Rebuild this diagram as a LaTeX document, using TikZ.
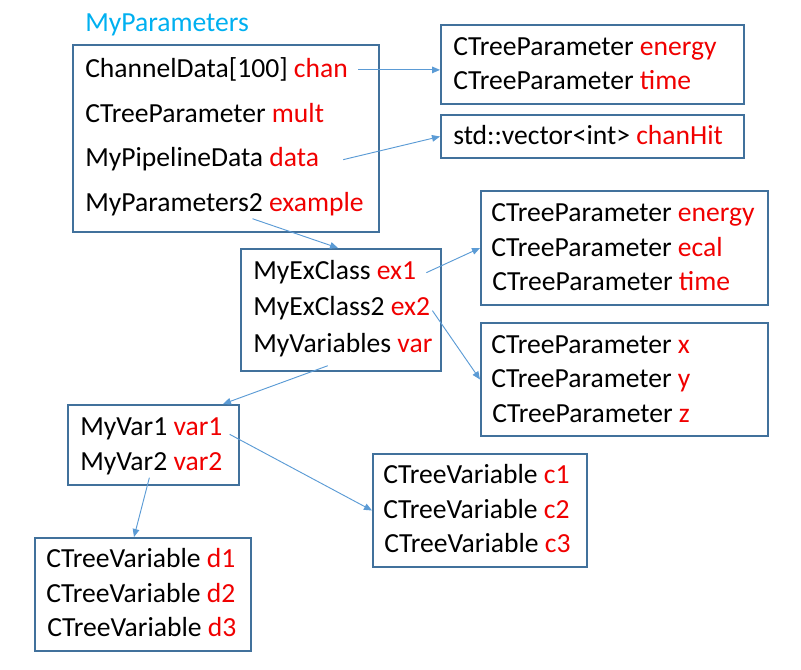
\documentclass[tikz,border=0pt]{standalone}
\usepackage{fontspec}
\setmainfont{Carlito}
\usepackage{xcolor}
\usepackage{tikz}
\usetikzlibrary{arrows.meta,positioning,fit,calc}

\definecolor{boxblue}{HTML}{41719C}
\definecolor{linkblue}{HTML}{5B9BD5}
\definecolor{titleblue}{HTML}{00B0F0}
\definecolor{vnred}{HTML}{F00000}
\newcommand{\vname}[1]{\textcolor{vnred}{#1}}

\begin{document}
\begin{tikzpicture}[
  x=0.75pt, y=-0.75pt,
  box/.style={draw=boxblue, line width=1.5pt, inner sep=0pt},
  txt/.style={anchor=base west, inner sep=0pt,
              font=\fontsize{20.7}{24}\selectfont},
  link/.style={-{Triangle[length=6pt, width=5pt]}, draw=linkblue,
               line width=0.7pt}
]
\useasboundingbox (0,0) rectangle (801,670);

% boxes
\node[box, fit={(73,45) (379,232)}]   (bMain) {};
\node[box, fit={(441,25) (744,104)}]  (bEn) {};
\node[box, fit={(441,115) (744,158)}] (bVec) {};
\node[box, fit={(241,249) (441,371)}] (bEx) {};
\node[box, fit={(481,191) (768,305)}] (bEcal) {};
\node[box, fit={(481,323) (768,436)}] (bXyz) {};
\node[box, fit={(68,405) (239,485)}]  (bVar) {};
\node[box, fit={(373,454) (587,567)}] (bC) {};
\node[box, fit={(35,538) (251,651)}]  (bD) {};

% texts
\node[txt, text=titleblue] (tPar) at (85,32) {MyParameters};
\node[txt] (lchan)    at (85,78)  {ChannelData[100] \vname{chan}};
\node[txt] (lmult)    at (85,123) {CTreeParameter \vname{mult}};
\node[txt] (ldata)    at (85,167) {MyPipelineData \vname{data}};
\node[txt] (lexample) at (85,212) {MyParameters2 \vname{example}};

\node[txt] (lenergy) at (453,56)  {CTreeParameter \vname{energy}};
\node[txt] (ltime)   at (453,90)  {CTreeParameter \vname{time}};
\node[txt] (lhit)    at (453,145) {std::vector<int> \vname{chanHit}};

\node[txt] (lex1) at (253,280) {MyExClass \vname{ex1}};
\node[txt] (lex2) at (253,316) {MyExClass2 \vname{ex2}};
\node[txt] (lvar) at (253,353) {MyVariables \vname{var}};

\node[txt] (lenB)  at (491,222) {CTreeParameter \vname{energy}};
\node[txt] (lecal) at (491,257) {CTreeParameter \vname{ecal}};
\node[txt] (ltiB)  at (492,291) {CTreeParameter \vname{time}};

\node[txt] (lx) at (491,354) {CTreeParameter \vname{x}};
\node[txt] (ly) at (491,388) {CTreeParameter \vname{y}};
\node[txt] (lz) at (492,423) {CTreeParameter \vname{z}};

\node[txt] (lvar1) at (80,436) {MyVar1 \vname{var1}};
\node[txt] (lvar2) at (80,471) {MyVar2 \vname{var2}};

\node[txt] (lc1) at (383,484) {CTreeVariable \vname{c1}};
\node[txt] (lc2) at (383,519) {CTreeVariable \vname{c2}};
\node[txt] (lc3) at (384,553) {CTreeVariable \vname{c3}};

\node[txt] (ld1) at (46,568) {CTreeVariable \vname{d1}};
\node[txt] (ld2) at (46,603) {CTreeVariable \vname{d2}};
\node[txt] (ld3) at (47,637) {CTreeVariable \vname{d3}};

% links
\draw[link] ($(lchan.east)+(10,0)$) -- (lchan.east -| bEn.west);
\draw[link] ($(ldata.east)+(24,0)$) -- (bVec.west);
\draw[link] ($(lexample.south)+(28,2)$) -- ($(bEx.north)+(-3,0)$);
\draw[link] ($(lex1.east)+(10,0)$) -- (bEcal.west);
\draw[link] ($(lex2.east)+(2,2)$) -- (bXyz.west);
\draw[link] ($(lvar.south)+(-15,8)$) -- ($(bVar.north east)+(-17,0)$);
\draw[link] ($(lvar2.south)+(-2,2)$) -- ($(bD.north)+(-9,0)$);
\draw[link] ($(lvar1.east)+(7,5)$) -- (bC.west);
\end{tikzpicture}
\end{document}
